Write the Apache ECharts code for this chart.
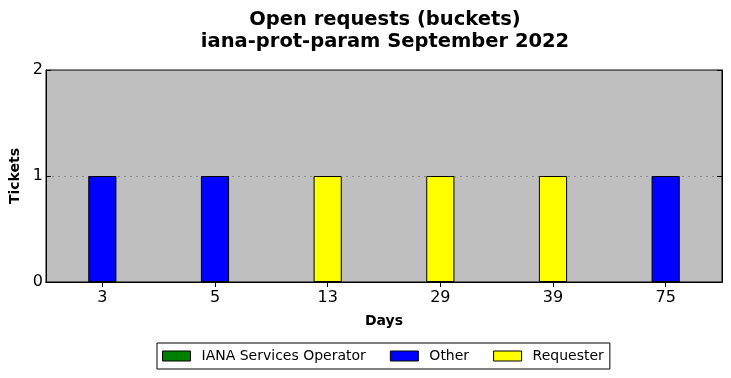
<!DOCTYPE html>
<html>
<head>
<meta charset="utf-8">
<script src="https://cdn.jsdelivr.net/npm/echarts@6/dist/echarts.min.js"></script>
<style>
  html, body { margin: 0; padding: 0; background: #fff; }
  #chart { width: 731px; height: 378px; }
</style>
</head>
<body>
<div id="chart"></div>
<script>
const chart = echarts.init(document.getElementById("chart"));

// data
const days = ["3", "5", "13", "29", "39", "75"];
const ianaOperator = [0, 0, 0, 0, 0, 0];
const other = [1, 1, 0, 0, 0, 1];
const requester = [0, 0, 1, 1, 1, 0];
const yTicks = [0, 1, 2];

const FONT = "DejaVu Sans";

function barSeries(name, data, color) {
  return {
    name: name,
    type: "bar",
    stack: "tickets",
    barWidth: "25%",
    // zero-height segments are left out so their borders don't show
    data: data.map(v => (v === 0 ? null : v)),
    itemStyle: { color: color, borderColor: "#000", borderWidth: 1 }
  };
}

const tick = { show: true, inside: true, length: 5, lineStyle: { color: "#000" } };
const frame = { show: true, lineStyle: { color: "#000", width: 1 } };

chart.setOption({
  animation: false,
  textStyle: { fontFamily: FONT },
  title: {
    text: "Open requests (buckets)\niana-prot-param September 2022",
    left: 380,
    top: 4,
    textAlign: "center",
    textStyle: { fontFamily: FONT, fontSize: 19.5, fontWeight: "bold", color: "#000", lineHeight: 22 }
  },
  legend: {
    bottom: 9,
    left: 157,
    icon: "rect",
    itemWidth: 28,
    itemHeight: 10,
    itemGap: 24,
    padding: [6, 6, 6, 5],
    borderColor: "#000",
    borderWidth: 1,
    borderRadius: 0,
    itemStyle: { borderColor: "#000", borderWidth: 1 },
    textStyle: { fontFamily: FONT, fontSize: 14, color: "#000", padding: [0, 0, 0, 6] },
    data: ["IANA Services Operator", "Other", "Requester"]
  },
  grid: {
    left: 46,
    right: 9,
    top: 70,
    bottom: 96,
    outerBoundsMode: "none",
    containLabel: false,
    show: true,
    backgroundColor: "#bfbfbf",
    borderColor: "#000",
    borderWidth: 1
  },
  xAxis: [
    {
      type: "category",
      data: days,
      name: "Days",
      nameLocation: "middle",
      nameGap: 32,
      nameTextStyle: { fontFamily: FONT, fontSize: 14, fontWeight: "bold", color: "#000" },
      axisLine: frame,
      axisTick: Object.assign({ alignWithLabel: true }, tick),
      axisLabel: { fontFamily: FONT, fontSize: 16, color: "#000", margin: 8 }
    },
    {
      type: "category",
      data: days,
      position: "top",
      axisLine: frame,
      axisTick: Object.assign({ alignWithLabel: true }, tick),
      axisLabel: { show: false }
    }
  ],
  yAxis: [
    {
      type: "value",
      min: 0,
      max: 2,
      interval: 1,
      name: "Tickets",
      nameLocation: "middle",
      nameGap: 22,
      nameTextStyle: { fontFamily: FONT, fontSize: 14, fontWeight: "bold", color: "#000" },
      axisLine: frame,
      axisTick: tick,
      axisLabel: {
        fontFamily: FONT, fontSize: 16, color: "#000", margin: 3,
        formatter: v => (yTicks.includes(v) ? String(v) : "")
      },
      splitLine: {
        show: true,
        showMinLine: false,
        showMaxLine: false,
        lineStyle: { color: "#8a8a8a", type: [2, 4], width: 1 }
      }
    },
    {
      type: "value",
      min: 0,
      max: 2,
      interval: 1,
      position: "right",
      axisLine: frame,
      axisTick: tick,
      axisLabel: { show: false },
      splitLine: { show: false }
    }
  ],
  series: [
    barSeries("IANA Services Operator", ianaOperator, "#008000"),
    barSeries("Other", other, "#0000ff"),
    barSeries("Requester", requester, "#ffff00")
  ]
});
</script>
</body>
</html>
